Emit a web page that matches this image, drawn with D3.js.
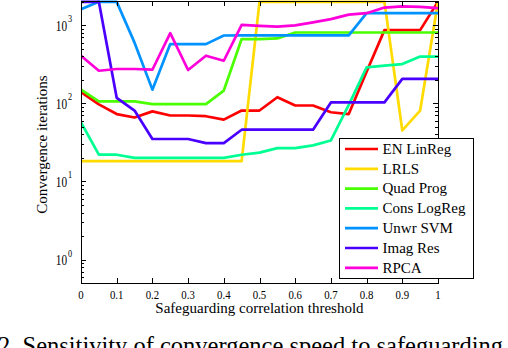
<!DOCTYPE html>
<html><head><meta charset="utf-8">
<script src="https://cdn.jsdelivr.net/npm/d3@7"></script>
<style>body{margin:0;background:#fff;overflow:hidden;} svg{display:block;}</style>
</head><body>
<svg id="c" width="508" height="348"></svg>
<script>
// ---- data ----
const thresholds = [0,0.05,0.1,0.15,0.2,0.25,0.3,0.35,0.4,0.45,0.5,0.55,0.6,0.65,0.7,0.75,0.8,0.85,0.9,0.95,1];
const seriesNames = ["EN LinReg","LRLS","Quad Prog","Cons LogReg","Unwr SVM","Imag Res","RPCA"];
const seriesColors = ["#ff0000","#ffdb00","#49ff00","#00ff92","#0092ff","#4900ff","#ff00db"];
const enLinReg   = [139,97,73,66,79,70,70,68.5,62,81,81,120,94,94,77,73,255,868,868,868,2000];
const lrls       = [18.2,18.2,18.2,18.2,18.2,18.2,18.2,18.2,18.2,18.2,2000,2000,2000,2000,2000,2000,2000,2000,45,81,2000];
const quadProg   = [150,106,106,106,98,98,98,98,146,667,667,680,810,810,810,810,810,810,810,810,810];
const consLogReg = [57,22,22,20,20,20,20,20,20,22,23.4,26.7,26.7,29,33.5,96,290,304,319,398,398];
const unwrSVM    = [1610,2000,2000,600,150,575,575,575,741,745,745,745,745,745,745,745,1431,1431,1431,1431,1431];
const imagRes    = [2000,2000,118,81,35,35,35,31,31,46,46,46,46,46,103,103,103,103,206,206,206];
const rpca       = [408,262,276,276,270,795,268,408,352,1015,985,960,1000,1090,1200,1370,1430,1690,1745,1720,1660];
const seriesValues = [enLinReg, lrls, quadProg, consLogReg, unwrSVM, imagRes, rpca];

const xTicks = [0,0.1,0.2,0.3,0.4,0.5,0.6,0.7,0.8,0.9,1];
const xTickLabels = ["0","0.1","0.2","0.3","0.4","0.5","0.6","0.7","0.8","0.9","1"];
const yTicks = [1,10,100,1000];
const yTickExponents = ["0","1","2","3"];
const yMinorTicks = [0.5,0.6,0.7,0.8,0.9,2,3,4,5,6,7,8,9,20,30,40,50,60,70,80,90,200,300,400,500,600,700,800,900,2000];
const xLabel = "Safeguarding correlation threshold";
const yLabel = "Convergence iterations";
const caption = "2. Sensitivity of convergence speed to safeguarding";

// ---- layout ----
const L = 81, R = 438, T = 1, B = 283;
const svg = d3.select("#c");
const x = d3.scaleLinear().domain([0,1]).range([L,R]);
const y = d3.scaleLog().domain([0.5,2050]).range([B,T]);
const serif = "'Liberation Serif','Times New Roman',serif";

svg.append("rect").attr("width",508).attr("height",348).attr("fill","#fff");

const clip = svg.append("defs").append("clipPath").attr("id","pc");
clip.append("rect").attr("x",L).attr("y",T-1).attr("width",R-L).attr("height",B-T+1);

// series
const line = d3.line().x((d,i)=>x(thresholds[i])).y(d=>y(d));
const lg = svg.append("g").attr("clip-path","url(#pc)");
seriesValues.forEach((vals,k)=>{
  lg.append("path").datum(vals).attr("d",line)
    .attr("fill","none").attr("stroke",seriesColors[k])
    .attr("stroke-width",2.7).attr("stroke-linejoin","round");
});

// axes (inward ticks on all sides)
function styleAxis(g){
  g.select(".domain").remove();
  g.selectAll("line").attr("stroke","#000").attr("shape-rendering","crispEdges");
  g.selectAll("text").remove();
}
svg.append("g").attr("transform",`translate(0,${B})`)
  .call(d3.axisBottom(x).tickValues(xTicks).tickSize(-5).tickSizeOuter(0).tickFormat("")).call(styleAxis);
svg.append("g").attr("transform",`translate(0,${T})`)
  .call(d3.axisTop(x).tickValues(xTicks).tickSize(-5).tickSizeOuter(0).tickFormat("")).call(styleAxis);
svg.append("g").attr("transform",`translate(${L},0)`)
  .call(d3.axisLeft(y).tickValues(yTicks).tickSize(-5).tickSizeOuter(0).tickFormat("")).call(styleAxis);
svg.append("g").attr("transform",`translate(${L},0)`)
  .call(d3.axisLeft(y).tickValues(yMinorTicks).tickSize(-3).tickSizeOuter(0).tickFormat("")).call(styleAxis);
svg.append("g").attr("transform",`translate(${R},0)`)
  .call(d3.axisRight(y).tickValues(yTicks).tickSize(-5).tickSizeOuter(0).tickFormat("")).call(styleAxis);
svg.append("g").attr("transform",`translate(${R},0)`)
  .call(d3.axisRight(y).tickValues(yMinorTicks).tickSize(-3).tickSizeOuter(0).tickFormat("")).call(styleAxis);

// frame
svg.append("rect").attr("x",L).attr("y",T).attr("width",R-L).attr("height",B-T)
  .attr("fill","none").attr("stroke","#000").attr("stroke-width",1).attr("shape-rendering","crispEdges");

// x tick labels
xTicks.forEach((t,i)=>{
  svg.append("text").attr("transform",`translate(${x(t)},298.5) scale(0.8,1)`)
    .attr("text-anchor","middle").attr("font-family",serif).attr("font-size",13.5)
    .attr("fill","#000").text(xTickLabels[i]);
});
// y tick labels 10^k
yTicks.forEach((t,i)=>{
  const yy = y(t);
  svg.append("text").attr("transform",`translate(67,${yy+5.5}) scale(0.75,1)`)
    .attr("text-anchor","end").attr("font-family",serif).attr("font-size",15)
    .attr("fill","#000").text("10");
  svg.append("text").attr("transform",`translate(68,${yy-3}) scale(0.75,1)`)
    .attr("text-anchor","start").attr("font-family",serif).attr("font-size",11)
    .attr("fill","#000").text(yTickExponents[i]);
});

// axis labels
svg.append("text").attr("x",259.5).attr("y",313).attr("text-anchor","middle")
  .attr("font-family",serif).attr("font-size",15).attr("fill","#000").text(xLabel);
svg.append("text").attr("transform","translate(46.5,144.5) rotate(-90)").attr("text-anchor","middle")
  .attr("font-family",serif).attr("font-size",15).attr("fill","#000").text(yLabel);

// legend
const lgX = 339, lgY = 138, lgW = 134, lgH = 140;
const leg = svg.append("g");
leg.append("rect").attr("x",lgX).attr("y",lgY).attr("width",lgW).attr("height",lgH)
  .attr("fill","#fff").attr("stroke","#000").attr("shape-rendering","crispEdges");
seriesNames.forEach((n,k)=>{
  const ry = 149 + k*19.8;
  leg.append("line").attr("x1",345).attr("x2",378).attr("y1",ry).attr("y2",ry)
    .attr("stroke",seriesColors[k]).attr("stroke-width",2.7);
  leg.append("text").attr("x",382.5).attr("y",ry+4.8).attr("font-family",serif)
    .attr("font-size",15).attr("fill","#000").text(n);
});

// caption (cut off at bottom as in the source)
svg.append("text").attr("x",-2).attr("y",354).attr("font-family",serif)
  .attr("font-size",24.5).attr("fill","#000").text(caption);
</script>
</body></html>
